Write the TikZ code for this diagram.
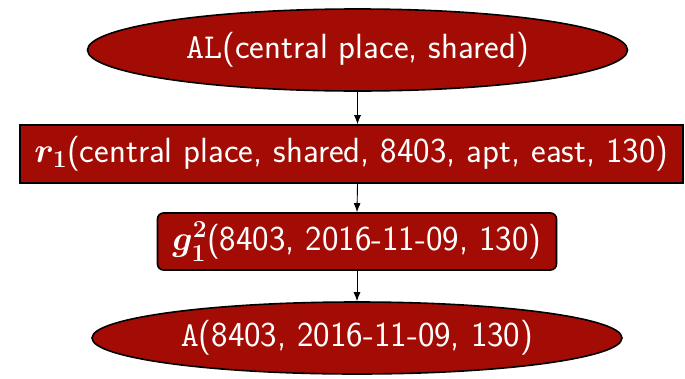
\RequirePackage{fix-cm}
\documentclass[tikz,border=0pt]{standalone}
\usepackage{tikz}
\usetikzlibrary{arrows.meta,calc,shapes.geometric}
\usepackage{xcolor}
\usepackage{amsmath}
\definecolor{brick}{RGB}{163,12,4}

\tikzset{
  box/.style={draw=black,line width=1.6pt,fill=brick,text=white,inner sep=0pt,
    font=\fontsize{35}{40}\selectfont\sffamily\boldmath},
  flow/.style={-{Latex[length=9pt,width=7pt]},line width=0.9pt}
}

\begin{document}
\begin{tikzpicture}[x=1pt,y=-1pt]
  \useasboundingbox (0,0) rectangle (685,378);
  \node[box,ellipse,minimum width=540,minimum height=82] (al) at (357.5,50)
    {\texttt{AL}(central place, shared)};
  \node[box,rectangle,minimum width=663,minimum height=58] (rec) at (351.5,154)
    {$r_1$(central place, shared, 8403, apt, east, 130)};
  \node[box,rectangle,rounded corners=6pt,minimum width=399,minimum height=57] (grp) at (357,241.5)
    {$g_1^2$(8403, 2016-11-09, 130)};
  \node[box,ellipse,minimum width=530,minimum height=72] (ans) at (357,338)
    {\texttt{A}(8403, 2016-11-09, 130)};
  \draw[flow] (al.south) -- (al.south |- rec.north);
  \draw[flow] (al.south |- rec.south) -- (grp.north);
  \draw[flow] (grp.south) -- (ans.north);
\end{tikzpicture}
\end{document}
